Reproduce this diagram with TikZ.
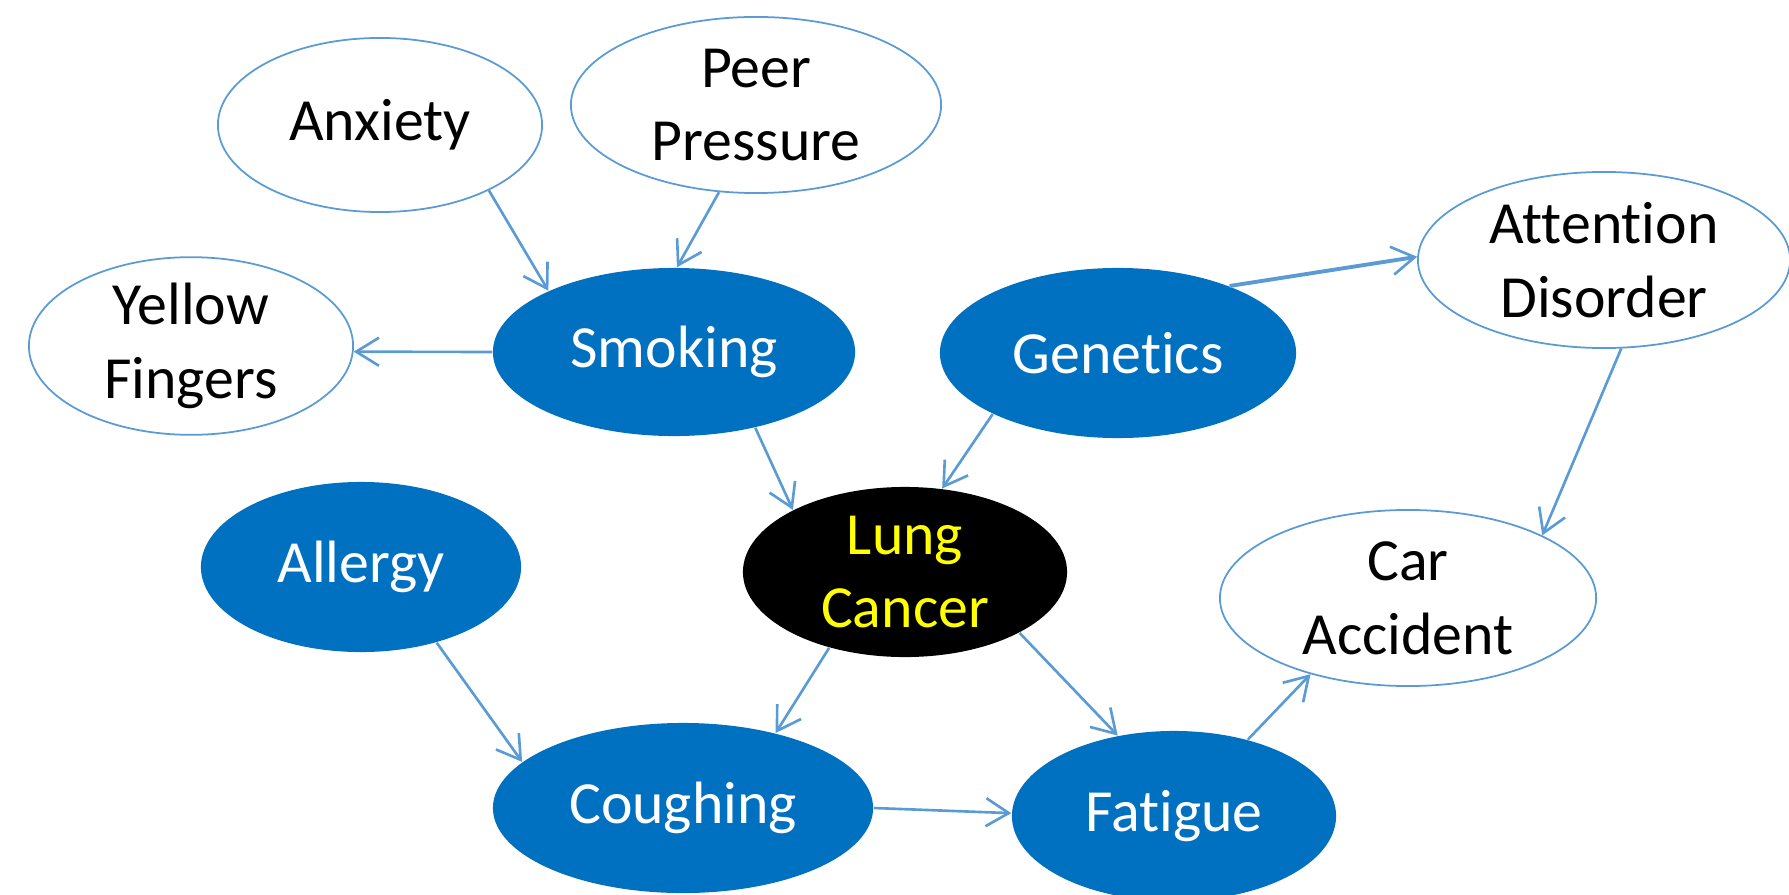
\documentclass[tikz,border=0pt]{standalone}
\usepackage{fontspec}
\setmainfont{Carlito}[Ligatures=NoCommon]
\usetikzlibrary{arrows.meta,shapes.geometric}
\definecolor{nodeblue}{RGB}{0,112,192}
\definecolor{edgeblue}{RGB}{91,155,213}
\definecolor{lungyellow}{RGB}{255,255,0}
\tikzset{
  base/.style={ellipse, inner sep=0pt, align=center,
    font=\fontsize{17}{21}\selectfont},
  hollow/.style={base, draw=edgeblue, line width=0.5pt, fill=white, text=black},
  bluenode/.style={base, fill=nodeblue, text=white},
  darknode/.style={base, fill=black, text=lungyellow},
  link/.style={draw=edgeblue, line width=0.75pt,
    -{Straight Barb[length=6.5pt, width=8pt, line width=0.75pt]}},
  thicklink/.style={link, line width=1.1pt},
}
\begin{document}
\begin{tikzpicture}[x=0.01cm, y=-0.01cm]
\useasboundingbox (0,0) rectangle (1789,894);

% causes and effects of smoking
\node[hollow, minimum width=3.24cm, minimum height=1.74cm] (anx) at (380,125) {Anxiety};
\node[hollow, minimum width=3.70cm, minimum height=1.76cm] (peer) at (756,105) {Peer\\Pressure};
\node[hollow, minimum width=3.24cm, minimum height=1.76cm] (yel) at (191,346) {Yellow\\Fingers};
\node[bluenode, minimum width=3.62cm, minimum height=1.68cm] (smk) at (674,352) {Smoking};
\node[bluenode, minimum width=3.56cm, minimum height=1.70cm] (gen) at (1118,353) {Genetics};
\node[hollow, minimum width=3.72cm, minimum height=1.76cm] (att) at (1604,260) {Attention\\Disorder};

% lower row
\node[bluenode, minimum width=3.20cm, minimum height=1.70cm] (all) at (361,567) {Allergy};
\node[darknode, minimum width=3.24cm, minimum height=1.70cm] (lung) at (905,572) {Lung\\Cancer};
\node[hollow, minimum width=3.76cm, minimum height=1.76cm] (car) at (1408,598) {Car\\Accident};
\node[bluenode, minimum width=3.80cm, minimum height=1.70cm] (cou) at (683,808) {Coughing};
\node[bluenode, minimum width=3.24cm, minimum height=1.70cm] (fat) at (1174,816) {Fatigue};

% dependencies
\draw[link] (anx.-31.5) -- (smk.154.5);
\draw[link] (peer.-113) -- (smk.88.7);
\draw[link] (smk.180) -- (yel.-2);
\draw[link] (smk.-43) -- (lung.151.5);
\draw[link] (gen.-154.3) -- (lung.66.9);
\draw[thicklink] (gen.31.5) -- (att.179.4);
\draw[link] (att.-79) -- (car.25.7);
\draw[link] (all.-45.8) -- (cou.164.1);
\draw[link] (lung.-135.4) -- (cou.39.1);
\draw[link] (lung.-28.5) -- (fat.125.1);
\draw[link] (cou.0) -- (fat.179.7);
\draw[link] (fat.46.9) -- (car.-142.9);
\end{tikzpicture}
\end{document}
